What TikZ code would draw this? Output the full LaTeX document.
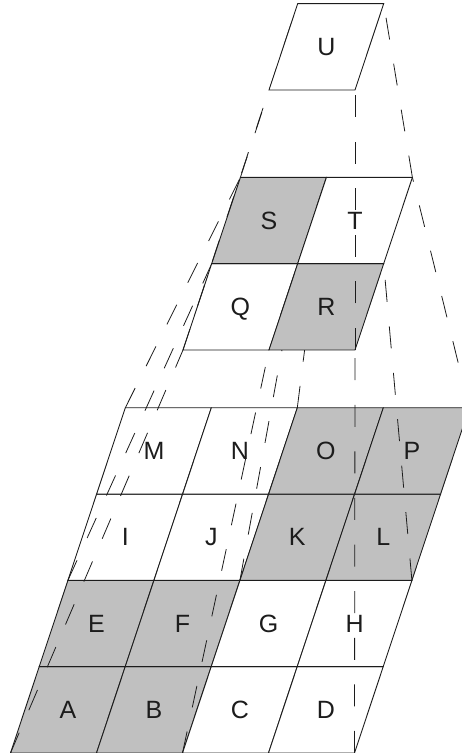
\documentclass[tikz,border=0pt]{standalone}
\usepackage{fontspec}
\setmainfont{Liberation Sans}
\usetikzlibrary{calc}
\definecolor{cellgray}{RGB}{192,192,192}
\definecolor{ink}{RGB}{28,28,28}
\begin{document}
\begin{tikzpicture}[x=1pt,y=1pt,
  cellframe/.style={draw=ink, line width=0.9pt, line join=miter},
  shaded/.style={cellframe, fill=cellgray},
  plain/.style={cellframe, fill=white},
  link/.style={draw=ink, line width=0.8pt, dash pattern=on 22pt off 24.6pt},
  letter/.style={font=\fontsize{25}{25}\selectfont, text=ink, inner sep=0pt,
                 text height=17.2pt, text depth=0pt}]
\useasboundingbox (0,0) rectangle (461,753);

% lattice points of the three levels (sheared squares)
\foreach \i in {0,...,4}{\foreach \j in {0,...,4}{
  \coordinate (b\i\j) at ({10.5+86*\i+28.7*\j},{86.3*\j});}}
\foreach \i in {0,1,2}{\foreach \j in {0,1,2}{
  \coordinate (m\i\j) at ({183+86*\i+28.7*\j},{403+86.3*\j});}}
\foreach \i in {0,1}{\foreach \j in {0,1}{
  \coordinate (t\i\j) at ({269+86*\i+28.7*\j},{663+86.3*\j});}}

% level 0: 4x4 grid
\foreach \i/\j/\t/\s in {0/0/A/shaded,1/0/B/shaded,2/0/C/plain,3/0/D/plain,
                         0/1/E/shaded,1/1/F/shaded,2/1/G/plain,3/1/H/plain,
                         0/2/I/plain,1/2/J/plain,2/2/K/shaded,3/2/L/shaded,
                         0/3/M/plain,1/3/N/plain,2/3/O/shaded,3/3/P/shaded}{
  \pgfmathtruncatemacro\ii{\i+1}\pgfmathtruncatemacro\jj{\j+1}
  \path[\s] (b\i\j) -- (b\ii\j) -- (b\ii\jj) -- (b\i\jj) -- cycle;
  \node[letter] (\t) at ($(b\i\j)!0.5!(b\ii\jj)$) {\t};
}

% projection lines from level 0 up to level 1
\foreach \i in {0,1,2}{\foreach \j in {0,1,2}{
  \pgfmathtruncatemacro\ii{2*\i}\pgfmathtruncatemacro\jj{2*\j}
  \draw[link] (b\ii\jj) -- (m\i\j);}}

% level 1: 2x2 grid
\foreach \i/\j/\t/\s in {0/0/Q/plain,1/0/R/shaded,0/1/S/shaded,1/1/T/plain}{
  \pgfmathtruncatemacro\ii{\i+1}\pgfmathtruncatemacro\jj{\j+1}
  \path[\s] (m\i\j) -- (m\ii\j) -- (m\ii\jj) -- (m\i\jj) -- cycle;
  \node[letter] (\t) at ($(m\i\j)!0.5!(m\ii\jj)$) {\t};
}

% projection lines from level 1 up to level 2
\foreach \i in {0,1}{\foreach \j in {0,1}{
  \pgfmathtruncatemacro\ii{2*\i}\pgfmathtruncatemacro\jj{2*\j}
  \draw[link] (m\ii\jj) -- (t\i\j);}}

% level 2: single cell
\path[plain] (t00) -- (t10) -- (t11) -- (t01) -- cycle;
\node[letter] (U) at ($(t00)!0.5!(t11)$) {U};
\end{tikzpicture}
\end{document}
